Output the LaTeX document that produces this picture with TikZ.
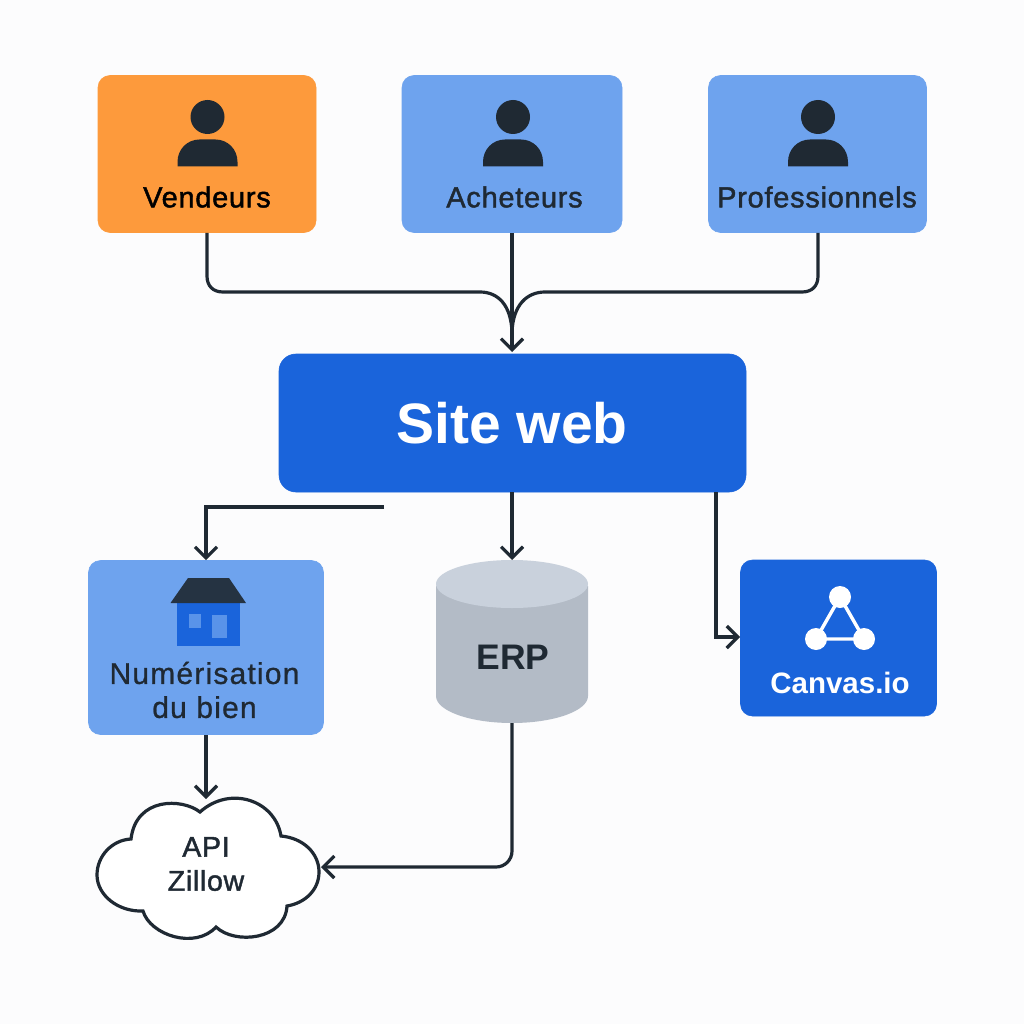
\documentclass[tikz,border=0pt]{standalone}
\usepackage{fontspec}
\setmainfont{Liberation Sans}
\newfontfamily\medf[FakeBold=1.5,LetterSpace=2.5]{Liberation Sans}
\newfontfamily\medw[FakeBold=0.8,LetterSpace=4]{Liberation Sans}
\usetikzlibrary{arrows.meta}
\definecolor{bgc}{HTML}{FCFCFD}
\definecolor{ink}{HTML}{1F2933}
\definecolor{orangec}{HTML}{FD9A3C}
\definecolor{lightb}{HTML}{6EA3EE}
\definecolor{darkb}{HTML}{1A64DB}
\definecolor{greyc}{HTML}{B3BBC6}
\definecolor{greyt}{HTML}{C9D1DC}
\tikzset{
 x=1pt,y=-1pt,
 boxs/.style={rounded corners=12pt,inner sep=0pt,line width=0.6pt},
 wire/.style={draw=ink,line width=3.2pt},
 link/.style={wire,rounded corners=16pt,-{Straight Barb[length=11pt,width=22pt,line width=3.2pt]}},
 sharp/.style={wire,-{Straight Barb[length=11pt,width=22pt,line width=3.2pt]}},
 lbl/.style={text=ink,align=center,inner sep=0pt},
}
\newcommand{\person}[2]{%
 \fill[ink] (#1,117) circle (17);
 \fill[ink] (#1-30,166.5) -- (#1-30,162) .. controls (#1-30,149) and (#1-20,139.5) .. (#1-8,139.5) -- (#1+8,139.5) .. controls (#1+20,139.5) and (#1+30,149) .. (#1+30,162) -- (#1+30,166.5) -- cycle;
}
\begin{document}
\begin{tikzpicture}
\useasboundingbox (0,0) rectangle (1024,1024);
\fill[bgc] (0,0) rectangle (1024,1024);
% boxes
\node[boxs,fill=orangec,draw=orangec,minimum width=218pt,minimum height=157pt] (v) at (207,154) {};
\node[boxs,fill=lightb,draw=lightb,minimum width=220pt,minimum height=157pt] (a) at (512,154) {};
\node[boxs,fill=lightb,draw=lightb,minimum width=218pt,minimum height=157pt] (p) at (817.5,154) {};
\node[boxs,fill=darkb,draw=darkb,rounded corners=17pt,minimum width=467pt,minimum height=138pt] (s) at (512.5,423) {};
\node[boxs,fill=lightb,draw=lightb,minimum width=235pt,minimum height=174pt] (n) at (206,647.5) {};
\node[boxs,fill=darkb,draw=darkb,minimum width=196pt,minimum height=156pt] (c) at (838.5,638) {};
% persons
\person{207.5}{160}
\person{513}{160}
\person{818}{160}
\node[lbl,text=black,font=\medf\fontsize{29}{32}\selectfont] (vt) at (207,197) {Vendeurs};
\node[lbl,font=\medf\fontsize{29}{32}\selectfont] (at) at (514.5,197) {Acheteurs};
\node[lbl,font=\medf\fontsize{29}{32}\selectfont] (pt) at (817,197) {Professionnels};
\node[lbl,text=white,font=\bfseries\fontsize{57}{60}\selectfont] (st) at (512,423) {Site web};
% house
\fill[darkb] (177,602) rectangle (240,645.5);
\fill[lightb!75!darkb] (189,614) rectangle (201,628);
\fill[lightb!75!darkb] (212,615) rectangle (227,638);
\fill[ink!92!lightb] (188,578) -- (229,578) -- (246,603) -- (170.5,603) -- cycle;
\node[lbl,font=\medw\fontsize{30}{34}\selectfont] (nt) at (204.5,690) {Numérisation\\du bien};
% cylinder
\fill[greyc] (436,586) -- (436,696) arc[start angle=180,end angle=360,x radius=76,y radius=-27] -- (588,586) -- cycle;
\fill[greyt] (512,584) ellipse (76 and 24);
\coordinate (erpt) at (512,560);
\coordinate (erpb) at (512,723);
\node[lbl,font=\bfseries\fontsize{35.5}{40}\selectfont] (et) at (513,657) {ERP};
% canvas icon
\draw[white,line width=3.4pt] (840,597) -- (816,639) -- (864,639) -- cycle;
\fill[white] (840,597) circle (11);
\fill[white] (816,639) circle (11);
\fill[white] (864,639) circle (11);
\node[lbl,text=white,font=\bfseries\fontsize{29.5}{32}\selectfont] (ct) at (840,683) {Canvas.io};
% cloud
\draw[fill=white,draw=ink,line width=3.2pt] (200,812)
 .. controls (182,798) and (136,797) .. (131,839)
 .. controls (112,840) and (97,856) .. (97,875)
 .. controls (97,895) and (118,912) .. (143,911)
 .. controls (150,935) and (195,950) .. (216,927)
 .. controls (235,945) and (285,940) .. (287,906)
 .. controls (305,903) and (319,890) .. (319,872)
 .. controls (319,853) and (303,838) .. (281,836)
 .. controls (275,800) and (230,785) .. (200,812) -- cycle;
\coordinate (cloudt) at (206,799);
\coordinate (cloudr) at (321,867);
\node[lbl,font=\medf\fontsize{28.5}{34}\selectfont] (zt) at (206,864) {API\\Zillow};
% connectors
\coordinate (vb) at (207,233);
\coordinate (pb) at (818,233);
\coordinate (st1) at (512,352);
\draw[wire] (vb) -- (207,276) .. controls (207,286) and (213,292) .. (223,292) -- (480,292) .. controls (498,292) and (511,305) .. (512,332);
\draw[wire] (pb) -- (818,276) .. controls (818,286) and (812,292) .. (802,292) -- (545,292) .. controls (527,292) and (513,305) .. (512,332);
\draw[sharp] (a.south) -- (st1);
\coordinate (s1) at (384,507);
\coordinate (n1) at (206,507);
\draw[sharp] (s1) -- (n1) -- (n.north -| n1);
\draw[sharp] (512,492) -- (erpt);
\draw[sharp] (716,492) -- (716,637) -- (740,637);
\draw[sharp] (n1 |- n.south) -- (cloudt);
\draw[link] (erpb) -- (512,867) -- (cloudr);
\end{tikzpicture}
\end{document}
